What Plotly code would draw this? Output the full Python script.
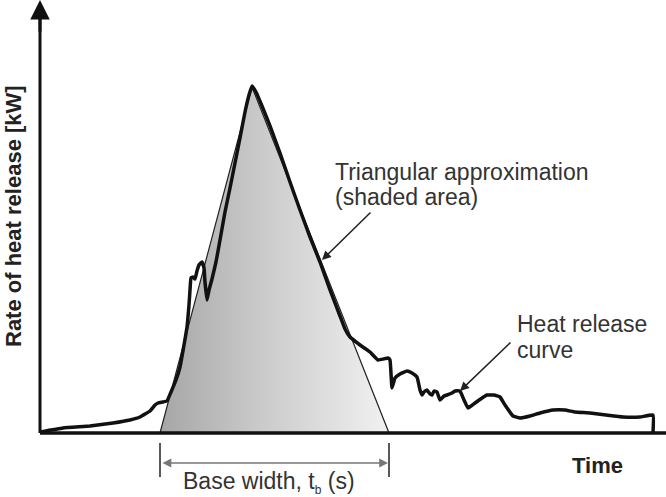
import plotly.graph_objects as go

# Heat release curve (time, rate) in chart units (origin at axes corner)
curve_t = [0, 23, 50, 73, 90, 100, 110, 115, 118, 123, 127, 131, 136, 140, 144, 147, 149, 150, 151, 153,
           155, 157, 159, 162, 164, 165, 167, 169, 172, 176, 180, 185, 190, 195, 200, 205, 209, 212, 216,
           222, 230, 240, 250, 260, 270, 280, 290, 300, 305, 310, 320, 330, 338, 348, 350, 352, 355, 360,
           367, 372, 377, 380, 382, 384, 387, 390, 392, 394, 397, 400, 404, 407, 412, 415, 420, 424, 428,
           435, 442, 447, 454, 460, 465, 473, 480, 490, 500, 513, 525, 535, 550, 566, 583, 600, 613, 613]
curve_q = [1, 5, 7, 10, 13, 16, 22, 28, 30, 31, 32, 41, 53, 66, 88, 106, 128, 143, 155, 156,
           154, 162, 168, 171, 165, 151, 133, 143, 154, 171, 193, 221, 245, 270, 295, 321, 338, 347, 341,
           327, 307, 280, 251, 223, 196, 171, 143, 117, 104, 96, 88, 81, 73, 75, 73, 45, 55, 59,
           62, 60, 56, 43, 38, 41, 43, 39, 38, 42, 41, 33, 37, 38, 40, 42, 42, 33, 25,
           30, 35, 38, 38, 36, 28, 17, 15, 17, 20, 23, 23, 21, 20, 18, 16, 16, 18, 0]

# Triangular approximation
tri_t = [120, 212, 349, 120]
tri_q = [0, 346, 0, 0]

fig = go.Figure()

fig.add_trace(go.Scatter(
    x=tri_t, y=tri_q, mode="lines", fill="toself",
    fillgradient=dict(type="horizontal",
                      colorscale=[[0, "#a6a6a6"], [0.45, "#cbcbcb"], [1, "#f1f1f1"]]),
    line=dict(color="#222222", width=1.2), hoverinfo="skip", showlegend=False))

fig.add_trace(go.Scatter(
    x=curve_t, y=curve_q, mode="lines",
    line=dict(color="#111111", width=3.5, shape="spline", smoothing=0.3),
    hoverinfo="skip", showlegend=False))

# axes
fig.add_shape(type="line", x0=0, y0=0, x1=626, y1=0, xref="x", yref="y",
              line=dict(color="#111111", width=3.5))
fig.add_shape(type="line", x0=0, y0=0, x1=0, y1=425, xref="x", yref="y",
              line=dict(color="#111111", width=3))
fig.add_annotation(x=0, y=433, ax=0, ay=400, xref="x", yref="y", axref="x", ayref="y",
                   text="", showarrow=True, arrowhead=2, arrowsize=1.3, arrowwidth=3,
                   arrowcolor="#111111")

# base width dimension
base_left, base_right = tri_t[0], tri_t[2]
for bx in (base_left, base_right):
    fig.add_shape(type="line", x0=bx, x1=bx, y0=-10, y1=-44, xref="x", yref="y",
                  line=dict(color="#222222", width=1.5))
fig.add_annotation(x=base_right, y=-30, ax=base_left, ay=-30, xref="x", yref="y",
                   axref="x", ayref="y", text="", showarrow=True, arrowhead=2,
                   startarrowhead=2, arrowside="end+start", arrowsize=1.1, arrowwidth=1.6,
                   arrowcolor="#777777", standoff=1, startstandoff=1)

font = dict(family="Arial, Liberation Sans, sans-serif", size=23, color="#333333")
bfont = dict(family="Arial, Liberation Sans, sans-serif", size=22, color="#222222")
yfont = dict(family="Arial, Liberation Sans, sans-serif", size=22, color="#222222")

fig.add_annotation(x=(base_left + base_right) / 2 - 6, y=-49, xref="x", yref="y",
                   text="Base width, t<sub><span style='font-size:12px'>b</span></sub> (s)",
                   showarrow=False, font=font, xanchor="center", yanchor="middle")
fig.add_annotation(x=557, y=-32, xref="x", yref="y", text="<b>Time</b>", showarrow=False,
                   font=bfont, xanchor="center", yanchor="middle")
fig.add_annotation(x=-27, y=217, xref="x", yref="y", text="<b>Rate of heat release [kW]</b>",
                   showarrow=False, textangle=-90, font=yfont, xanchor="center", yanchor="middle")

fig.add_annotation(x=293, y=261, xref="x", yref="y", text="Triangular approximation",
                   showarrow=False, font=font, xanchor="left", yanchor="middle")
fig.add_annotation(x=293, y=236, xref="x", yref="y", text="(shaded area)",
                   showarrow=False, font=font, xanchor="left", yanchor="middle")
fig.add_annotation(x=282, y=173, ax=332, ay=222, xref="x", yref="y", axref="x", ayref="y",
                   text="", showarrow=True, arrowhead=2, arrowsize=1.2, arrowwidth=1.5,
                   arrowcolor="#222222")

fig.add_annotation(x=475, y=109, xref="x", yref="y", text="Heat release",
                   showarrow=False, font=font, xanchor="left", yanchor="middle")
fig.add_annotation(x=475, y=83, xref="x", yref="y", text="curve",
                   showarrow=False, font=font, xanchor="left", yanchor="middle")
fig.add_annotation(x=420, y=42, ax=472, ay=92, xref="x", yref="y", axref="x", ayref="y",
                   text="", showarrow=True, arrowhead=2, arrowsize=1.2, arrowwidth=1.5,
                   arrowcolor="#222222")

fig.update_layout(
    width=666, height=497, autosize=False,
    margin=dict(l=0, r=0, t=0, b=0),
    paper_bgcolor="white", plot_bgcolor="white",
    xaxis=dict(visible=False, range=[-40, 626], fixedrange=True),
    yaxis=dict(visible=False, range=[-64, 433], fixedrange=True),
    showlegend=False,
)

fig.write_html("out.html")
